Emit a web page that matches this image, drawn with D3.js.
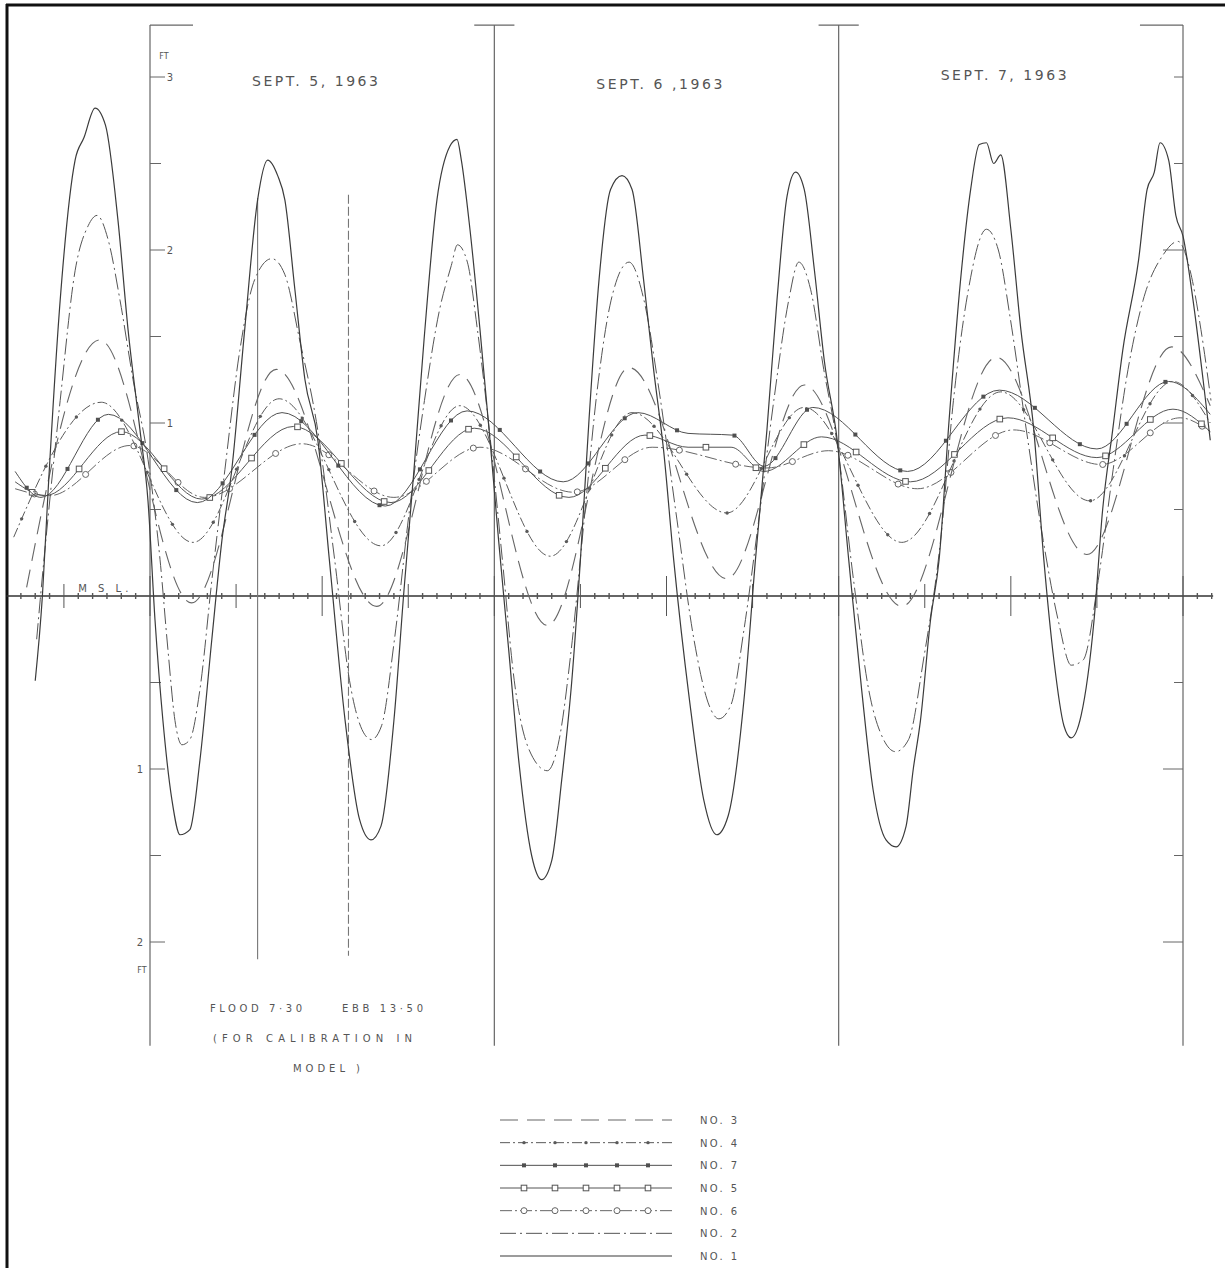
<!DOCTYPE html>
<html>
<head>
<meta charset="utf-8">
<script src="https://cdn.jsdelivr.net/npm/d3@7"></script>
<style>
  body { margin: 0; background: #fff; }
  text { font-family: "DejaVu Sans", sans-serif; fill: #555; }
</style>
</head>
<body>
<div id="chart"></div>
<script>
// time in hours from 00:00 Sept 5 1963, level in feet above M.S.L.
const no1 = [[-8.0,-0.49],[-7.5,0.0],[-7.1,0.61],[-6.26,1.71],[-5.22,2.52],[-4.6,2.65],[-3.83,2.82],[-3.1,2.72],[-2.23,2.17],[-1.53,1.54],[-0.7,0.96],[-0.14,0.55],[0.35,-0.14],[0.9,-0.72],[1.53,-1.18],[2.09,-1.38],[2.78,-1.35],[3.48,-0.95],[4.31,-0.25],[5.01,0.32],[5.7,0.73],[6.6,1.54],[7.5,2.29],[8.2,2.52],[8.9,2.43],[9.4,2.29],[10.1,1.77],[10.8,1.25],[11.7,0.9],[12.5,0.21],[13.6,-0.72],[14.6,-1.29],[15.4,-1.41],[16.1,-1.33],[17.0,-0.72],[17.7,0.03],[18.4,0.73],[19.1,1.48],[20.0,2.29],[20.9,2.6],[21.4,2.64],[21.7,2.52],[22.3,2.12],[23.0,1.54],[23.7,0.9],[24.3,0.32],[25.0,-0.31],[25.7,-0.95],[26.6,-1.5],[27.3,-1.64],[28.0,-1.53],[28.7,-1.06],[29.4,-0.49],[30.0,0.21],[30.6,1.02],[31.3,1.83],[32.1,2.35],[32.9,2.43],[33.6,2.35],[34.4,1.83],[35.1,1.31],[35.8,0.84],[36.5,0.21],[37.6,-0.6],[38.6,-1.18],[39.5,-1.38],[40.3,-1.27],[41.4,-0.6],[42.2,0.21],[43.0,0.96],[43.7,1.71],[44.4,2.31],[45.0,2.45],[45.6,2.35],[46.3,1.89],[47.0,1.36],[47.9,0.9],[48.7,0.21],[49.6,-0.54],[50.4,-1.12],[51.3,-1.41],[52.0,-1.45],[52.7,-1.33],[53.2,-1.0],[53.7,-0.72],[54.4,-0.14],[55.0,0.21],[55.7,1.02],[56.5,1.83],[57.2,2.35],[57.8,2.61],[58.3,2.62],[58.8,2.5],[59.3,2.55],[60.0,2.12],[60.7,1.54],[61.6,0.96],[62.3,0.21],[63.0,-0.37],[63.7,-0.75],[64.2,-0.82],[64.9,-0.69],[65.8,-0.14],[66.4,0.5],[67.1,0.96],[67.8,1.42],[68.9,1.94],[69.5,2.35],[70.0,2.45],[70.4,2.62],[71.0,2.52],[71.5,2.2],[72.0,2.08],[72.7,1.71],[73.4,1.25],[73.9,0.9]];
const no2 = [[-7.9,-0.25],[-7.65,-0.02],[-6.26,1.13],[-5.22,1.88],[-4.31,2.14],[-3.69,2.2],[-2.92,2.06],[-2.09,1.71],[-1.18,1.25],[-0.14,0.79],[0.7,0.21],[1.25,-0.31],[1.74,-0.72],[2.23,-0.86],[2.78,-0.83],[3.48,-0.54],[4.31,0.09],[5.22,0.73],[6.26,1.42],[7.3,1.83],[8.49,1.95],[9.39,1.86],[10.43,1.48],[11.69,0.96],[12.87,0.21],[13.91,-0.49],[14.96,-0.8],[15.44,-0.83],[16.14,-0.75],[17.04,-0.25],[18.09,0.5],[19.13,1.13],[20.17,1.65],[21.0,1.91],[21.43,2.03],[22.12,1.93],[22.82,1.54],[23.65,0.96],[24.56,0.21],[25.39,-0.49],[26.43,-0.89],[27.69,-1.01],[28.52,-0.83],[29.36,-0.31],[30.26,0.44],[31.17,1.19],[32.14,1.71],[33.39,1.93],[34.43,1.71],[35.48,1.19],[36.73,0.44],[37.91,-0.25],[38.96,-0.63],[39.65,-0.71],[40.49,-0.63],[41.39,-0.2],[42.43,0.44],[43.48,1.13],[44.52,1.71],[45.22,1.93],[46.05,1.77],[46.96,1.31],[47.86,0.9],[49.04,0.09],[50.09,-0.54],[51.13,-0.83],[51.97,-0.9],[52.87,-0.83],[53.91,-0.37],[55.1,0.32],[56.0,1.13],[57.04,1.77],[58.3,2.12],[59.13,2.0],[59.97,1.6],[61.08,0.96],[62.26,0.32],[63.3,-0.14],[64.21,-0.4],[65.04,-0.37],[66.09,0.09],[67.13,0.73],[68.17,1.31],[69.22,1.71],[70.6,1.97],[71.65,2.05],[72.5,1.88],[73.25,1.54],[73.95,1.13]];
const no3 = [[-8.6,0.05],[-3.5,1.48],[2.9,-0.04],[8.8,1.31],[15.8,-0.06],[21.6,1.28],[27.7,-0.17],[33.4,1.32],[40.2,0.10],[45.6,1.22],[52.4,-0.06],[59.0,1.38],[65.3,0.24],[71.2,1.44],[73.9,1.1]];
const no4 = [[-9.5,0.34],[-3.4,1.12],[3.0,0.31],[9.0,1.14],[16.1,0.29],[21.6,1.10],[27.9,0.23],[33.6,1.06],[40.2,0.48],[45.6,1.09],[52.4,0.31],[59.3,1.18],[65.5,0.55],[71.3,1.24],[73.9,1.0]];
const no7 = [[-9.4,0.72],[-7.6,0.57],[-2.9,1.05],[3.3,0.54],[9.2,1.06],[16.4,0.52],[22.1,1.07],[28.8,0.66],[34.0,1.06],[37.5,0.94],[40.6,0.93],[42.8,0.75],[46.2,1.09],[52.8,0.72],[59.2,1.19],[66.0,0.85],[71.0,1.24],[73.9,1.05]];
const no5 = [[-9.4,0.66],[-7.3,0.58],[-2.0,0.95],[3.6,0.56],[10.0,0.98],[16.8,0.54],[22.6,0.97],[29.2,0.57],[34.5,0.93],[37.5,0.86],[40.5,0.86],[42.8,0.72],[46.8,0.92],[53.0,0.66],[59.8,1.03],[66.0,0.80],[71.3,1.08],[73.9,0.95]];
const no6 = [[-9.4,0.62],[-7.0,0.58],[-1.4,0.87],[3.8,0.57],[10.6,0.88],[17.0,0.57],[23.0,0.86],[29.5,0.60],[35.0,0.86],[43.0,0.74],[47.3,0.84],[53.5,0.62],[60.2,0.96],[66.3,0.76],[71.8,1.03],[73.9,0.95]];

const dayLabels = ["SEPT. 5, 1963", "SEPT. 6 ,1963", "SEPT. 7, 1963"];
const dayStarts = [0, 24, 48, 72];
const leftTickLabels = [3, 2, 1, -1, -2];
const legendOrder = ["NO. 3", "NO. 4", "NO. 7", "NO. 5", "NO. 6", "NO. 2", "NO. 1"];
const floodHour = 7.5, ebbHour = 13 + 50 / 60;

const series = {"NO. 1": no1, "NO. 2": no2, "NO. 3": no3, "NO. 4": no4, "NO. 5": no5, "NO. 6": no6, "NO. 7": no7};
const look = {
  "NO. 1": {dash: null, color: "#3b3b3b", w: 1.2, mark: null},
  "NO. 2": {dash: "16,4,2,4", color: "#555", w: 1, mark: null},
  "NO. 3": {dash: "18,9", color: "#666", w: 1.1, mark: null},
  "NO. 4": {dash: "10,3,2,3", color: "#5a5a5a", w: 1, mark: "dot"},
  "NO. 7": {dash: null, color: "#505050", w: 1, mark: "fill"},
  "NO. 5": {dash: null, color: "#555", w: 1, mark: "square"},
  "NO. 6": {dash: "12,3,2,3", color: "#666", w: 1, mark: "circle"}
};

const W = 1225, H = 1268;
const svg = d3.select("#chart").append("svg").attr("width", W).attr("height", H);

const x = d3.scaleLinear().domain([0, 72]).range([150, 1183]);
const y = d3.scaleLinear().domain([0, 1]).range([596, 423]);

// frame (top and left only)
svg.append("line").attr("x1", 6).attr("x2", W).attr("y1", 5).attr("y2", 5).attr("stroke", "#111").attr("stroke-width", 3);
svg.append("line").attr("x1", 7).attr("x2", 7).attr("y1", 4).attr("y2", H).attr("stroke", "#111").attr("stroke-width", 3);

const g = svg.append("g");

// day lines
dayStarts.forEach((d, i) => {
  g.append("line").attr("x1", x(d)).attr("x2", x(d)).attr("y1", y(3.3)).attr("y2", y(-2.6))
    .attr("stroke", "#666").attr("stroke-width", 1.2);
  let a = -1.4, b = 1.4;
  if (i == 0) { a = 0; b = 3; }
  if (i == dayStarts.length - 1) { a = -3; b = 0; }
  g.append("line").attr("x1", x(d + a)).attr("x2", x(d + b)).attr("y1", y(3.3)).attr("y2", y(3.3))
    .attr("stroke", "#666").attr("stroke-width", 1.2);
});

// left axis ticks
d3.range(-2, 3.01, 0.5).filter(v => v != 0).forEach(v => {
  g.append("line").attr("x1", x(0)).attr("x2", x(0) + (Number.isInteger(v) ? 15 : 11))
    .attr("y1", y(v)).attr("y2", y(v)).attr("stroke", "#666");
});
leftTickLabels.forEach(v => {
  g.append("text").attr("x", v > 0 ? x(0) + 20 : x(0) - 10).attr("y", y(v) + 4)
    .attr("font-size", 10).attr("text-anchor", "middle").text(Math.abs(v));
});
g.append("text").attr("x", x(0) + 14).attr("y", y(3) - 18).attr("font-size", 8).attr("text-anchor", "middle").text("FT");
g.append("text").attr("x", x(0) - 8).attr("y", y(-2) + 31).attr("font-size", 8).attr("text-anchor", "middle").text("FT");

// right axis ticks
d3.range(-2, 3.01, 0.5).filter(v => v != 0).forEach(v => {
  g.append("line").attr("x1", x(72) - (Number.isInteger(v) && Math.abs(v) < 3 ? 20 : 9)).attr("x2", x(72))
    .attr("y1", y(v)).attr("y2", y(v)).attr("stroke", "#666");
});

// MSL line with hour ticks
g.append("line").attr("x1", x(-10)).attr("x2", x(74.1)).attr("y1", y(0)).attr("y2", y(0))
  .attr("stroke", "#333").attr("stroke-width", 1.6);
d3.range(-9, 75).forEach(h => {
  const len = h % 6 == 0 ? (h % 12 == 0 ? 20 : 12) : 3;
  g.append("line").attr("x1", x(h)).attr("x2", x(h)).attr("y1", y(0) - len).attr("y2", y(0) + len)
    .attr("stroke", "#555").attr("stroke-width", h % 6 == 0 ? 1 : 1.4);
});
g.append("text").attr("x", x(-5)).attr("y", y(0) - 4).attr("font-size", 10)
  .attr("letter-spacing", 4).text("M S L.");

// flood / ebb marks
g.append("line").attr("x1", x(floodHour)).attr("x2", x(floodHour)).attr("y1", y(2.3)).attr("y2", y(-2.1))
  .attr("stroke", "#777").attr("stroke-width", 1.1);
g.append("line").attr("x1", x(ebbHour)).attr("x2", x(ebbHour)).attr("y1", y(2.32)).attr("y2", y(-2.08))
  .attr("stroke", "#777").attr("stroke-width", 1.1).attr("stroke-dasharray", "9,3");

// day titles
dayLabels.forEach((t, i) => {
  g.append("text").attr("x", x(dayStarts[i] + 11.5)).attr("y", [86, 89, 80][i])
    .attr("font-size", 14).attr("text-anchor", "middle")
    .attr("textLength", 126).attr("lengthAdjust", "spacing").text(t);
});

// notes
const notes = [["FLOOD 7·30", 210, 1012, 92], ["EBB 13·50", 342, 1012, 81], ["(FOR CALIBRATION IN", 213, 1042, 199], ["MODEL )", 293, 1072, 67]];
notes.forEach(n => {
  g.append("text").attr("x", n[1]).attr("y", n[2]).attr("font-size", 10)
    .attr("textLength", n[3]).attr("lengthAdjust", "spacing").text(n[0]);
});

function drawMarks(path, kind, every, start, color) {
  if (!kind) return;
  const node = path.node(), len = node.getTotalLength();
  for (let s = start; s < len; s += every) {
    const p = node.getPointAtLength(s);
    if (kind == "circle") {
      g.append("circle").attr("cx", p.x).attr("cy", p.y).attr("r", 3)
        .attr("fill", "#fff").attr("stroke", color).attr("stroke-width", 1);
    } else if (kind == "square") {
      g.append("rect").attr("x", p.x - 2.8).attr("y", p.y - 2.8).attr("width", 5.6).attr("height", 5.6)
        .attr("fill", "#fff").attr("stroke", color).attr("stroke-width", 1);
    } else if (kind == "fill") {
      g.append("rect").attr("x", p.x - 2).attr("y", p.y - 2).attr("width", 4).attr("height", 4).attr("fill", color);
    } else {
      g.append("circle").attr("cx", p.x).attr("cy", p.y).attr("r", 1.7).attr("fill", color);
    }
  }
}

const line = d3.line().x(d => x(d[0])).y(d => y(d[1])).curve(d3.curveMonotoneX);

["NO. 6", "NO. 5", "NO. 7", "NO. 4", "NO. 3", "NO. 2", "NO. 1"].forEach(name => {
  const st = look[name];
  const p = g.append("path").datum(series[name]).attr("d", line)
    .attr("fill", "none").attr("stroke", st.color).attr("stroke-width", st.w)
    .attr("stroke-dasharray", st.dash);
  drawMarks(p, st.mark, 58, 20, st.color);
});

// legend
const ly = d3.scalePoint().domain(legendOrder).range([1120, 1256]);
legendOrder.forEach(name => {
  const st = look[name];
  const p = g.append("path").attr("d", `M500,${ly(name)}H672`)
    .attr("fill", "none").attr("stroke", st.color).attr("stroke-width", st.w)
    .attr("stroke-dasharray", st.dash);
  drawMarks(p, st.mark, 31, 24, st.color);
  g.append("text").attr("x", 700).attr("y", ly(name) + 4).attr("font-size", 10)
    .attr("textLength", 37).attr("lengthAdjust", "spacing").text(name);
});
</script>
</body>
</html>
